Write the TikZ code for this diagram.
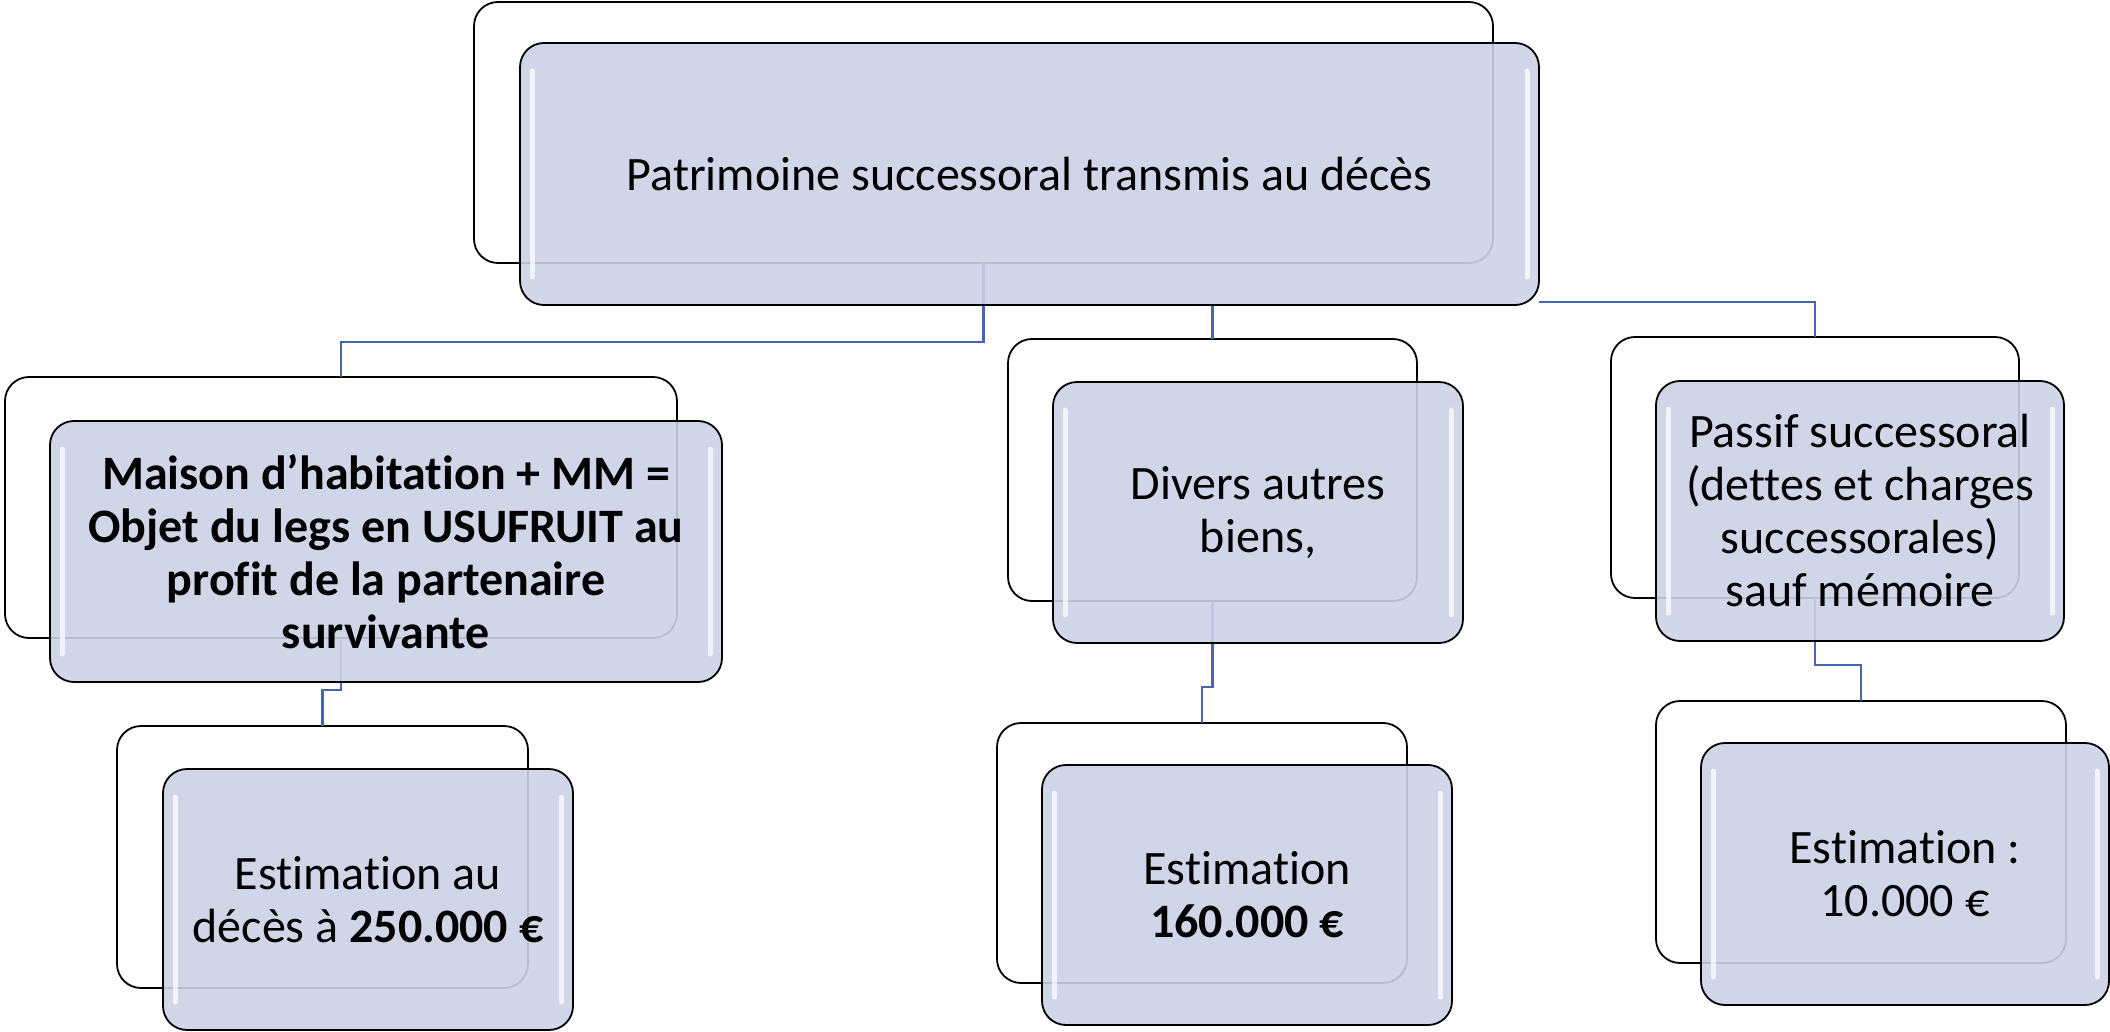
\documentclass[tikz,border=0pt]{standalone}
\usepackage{fontspec}
\setmainfont[Ligatures=NoCommon]{Carlito}
\pgfdeclarelayer{backl}
\pgfdeclarelayer{connl}
\pgfsetlayers{backl,connl,main}
\definecolor{frontc}{RGB}{204,209,230}
\definecolor{connc}{RGB}{68,104,176}
\tikzset{
  box/.style={rectangle, rounded corners=24pt, line width=1.8pt, draw=black, inner sep=0pt, outer sep=0pt},
  backbox/.style={box, fill=white},
  frontbox/.style={box, fill=frontc, fill opacity=0.9, text opacity=1, align=center, font=\fontsize{48}{53}\selectfont},
  conn/.style={draw=connc, line width=2.2pt},
  gloss/.style={draw=white, line width=5pt, line cap=round, opacity=0.75},
}
\newcommand\glossy[1]{%
  \draw[gloss] ([xshift=12pt,yshift=-28pt]#1.north west) -- ([xshift=12pt,yshift=28pt]#1.south west);
  \draw[gloss] ([xshift=-12pt,yshift=-28pt]#1.north east) -- ([xshift=-12pt,yshift=28pt]#1.south east);}
\begin{document}
\begin{tikzpicture}[x=1pt,y=-1pt]
\useasboundingbox (0,0) rectangle (2110,1032);
\begin{pgfonlayer}{backl}
\node[backbox, minimum width=1019pt, minimum height=261pt] (tb) at (983.5,132.5) {};
\node[backbox, minimum width=672pt, minimum height=261pt] (lb) at (341,507.5) {};
\node[backbox, minimum width=411pt, minimum height=262pt] (lbb) at (322.5,857) {};
\node[backbox, minimum width=409pt, minimum height=262pt] (mb) at (1212.5,470) {};
\node[backbox, minimum width=410pt, minimum height=260pt] (mbb) at (1202,853) {};
\node[backbox, minimum width=408pt, minimum height=261pt] (rb) at (1815,467.5) {};
\node[backbox, minimum width=410pt, minimum height=262pt] (rbb) at (1861,832) {};
\end{pgfonlayer}

\node[frontbox, minimum width=1019pt, minimum height=262pt] (tf) at (1029.5,174) {Patrimoine successoral transmis au décès};
\node[frontbox, minimum width=672pt, minimum height=261pt, font=\fontsize{48}{53}\selectfont\bfseries] (lf) at (386,551.5) {Maison d’habitation + MM =\\Objet du legs en USUFRUIT au\\profit de la partenaire\\survivante};
\node[frontbox, minimum width=410pt, minimum height=261pt] (lbf) at (368,899.5) {Estimation au\\décès à \textbf{250.000 €}};
\node[frontbox, minimum width=410pt, minimum height=261pt] (mf) at (1258,512.5) {Divers autres\\biens,};
\node[frontbox, minimum width=410pt, minimum height=260pt] (mbf) at (1247,895) {Estimation\\\textbf{160.000 €}};
\node[frontbox, minimum width=408pt, minimum height=260pt] (rf) at (1860,511) {Passif successoral\\(dettes et charges\\successorales)\\sauf mémoire};
\node[frontbox, minimum width=408pt, minimum height=262pt] (rbf) at (1905,874) {Estimation :\\10.000 €};

\begin{pgfonlayer}{connl}
\draw[conn] (tb.south) -- ++(0,79) -| (lb.north);
\draw[conn] (tf.south -| mb.north) -- (mb.north);
\draw[conn] ([yshift=3pt]tf.south east) -| (rb.north);
\draw[conn] (lb.south) -- ++(0,52) -| (lbb.north);
\draw[conn] (mb.south) -- ++(0,86) -| (mbb.north);
\draw[conn] (rb.south) -- ++(0,67) -| (rbb.north);
\end{pgfonlayer}

\glossy{tf}
\glossy{lf}
\glossy{lbf}
\glossy{mf}
\glossy{mbf}
\glossy{rf}
\glossy{rbf}
\end{tikzpicture}
\end{document}
